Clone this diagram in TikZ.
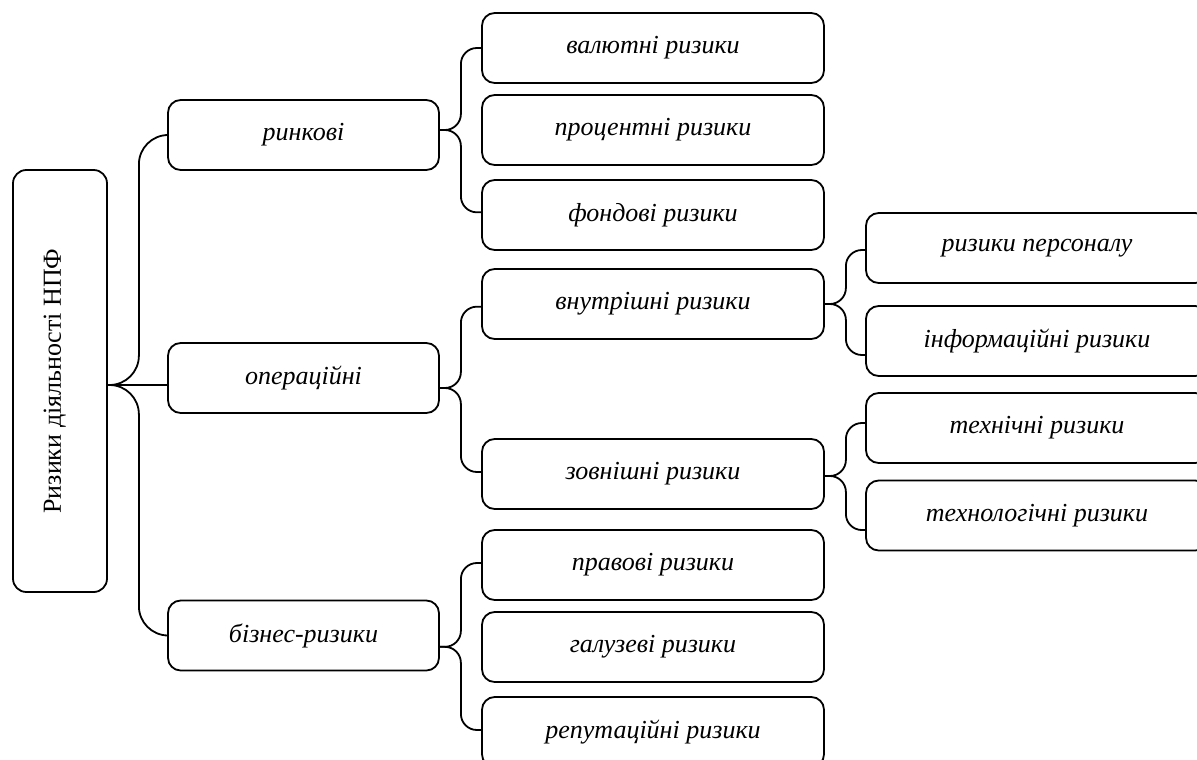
\documentclass[tikz,border=0pt]{standalone}
\usepackage{fontspec}
\setmainfont{Liberation Serif}
\usetikzlibrary{calc}
\tikzset{
  bx/.style={draw, line width=1.35pt, rounded corners=9.5pt, inner sep=0pt, align=center,
    font=\fontsize{19.5}{23}\selectfont\itshape},
  lone/.style={bx, minimum width=203.25pt, minimum height=52.5pt},
  ltwo/.style={bx, minimum width=256.5pt, minimum height=52.5pt},
  rootbox/.style={draw, line width=1.35pt, rounded corners=10pt, inner sep=0pt,
    minimum width=70.5pt, minimum height=316.5pt},
  conn/.style={line width=1.35pt, rounded corners=12pt},
  rconn/.style={line width=1.35pt, rounded corners=22pt}
}
\begin{document}
\begin{tikzpicture}[x=0.75pt,y=-0.75pt]
\useasboundingbox (0,0) rectangle (1197,760);
\clip (0,0) rectangle (1197,760);
% root
\node[rootbox] (root) at (60,381) {};
\node[rotate=90, font=\fontsize{19.5}{23}\selectfont] (roott) at ([xshift=-4pt]root.center) {Ризики діяльності НПФ};
% level 1
\node[lone] (rin) at (303.5,135) {ринкові};
\node[lone] (op) at (303.5,378) {операційні};
\node[lone] (biz) at (303.5,635.5) {бізнес-ризики};
% level 2
\node[ltwo] (val) at (653,48) {валютні ризики};
\node[ltwo] (pro) at (653,130) {процентні ризики};
\node[ltwo] (fon) at (653,215) {фондові ризики};
\node[ltwo] (vnu) at (653,304) {внутрішні ризики};
\node[ltwo] (zov) at (653,474) {зовнішні ризики};
\node[ltwo] (pra) at (653,565) {правові ризики};
\node[ltwo] (gal) at (653,647) {галузеві ризики};
\node[ltwo] (rep) at (653,732) {репутаційні ризики};
% level 3
\node[ltwo] (per) at (1037,248) {ризики персоналу};
\node[ltwo] (inf) at (1037,341) {інформаційні ризики};
\node[ltwo] (teh) at (1037,428) {технічні ризики};
\node[ltwo] (tel) at (1037,515.5) {технологічні ризики};
% root connectors
\draw[rconn] ([yshift=-3pt]root.east) -- ++(23.25pt,0) |- (rin.west);
\draw[rconn] ([yshift=-3pt]root.east) -- ++(23.25pt,0) |- (biz.west);
\draw[line width=1.35pt] ([yshift=-3pt]root.east) -- ([yshift=-3pt]root.east -| op.west);
% ринкові brace
\draw[conn] ([yshift=3.75pt]rin.east) -- ++(15.75pt,0) |- (val.west);
\draw[conn] ([yshift=3.75pt]rin.east) -- ++(15.75pt,0) |- ([yshift=2pt]fon.west);
% операційні brace
\draw[conn] ([yshift=-7.5pt]op.east) -- ++(15.75pt,0) |- ([yshift=-2pt]vnu.west);
\draw[conn] ([yshift=-7.5pt]op.east) -- ++(15.75pt,0) |- ([yshift=1.5pt]zov.west);
% бізнес brace
\draw[conn] ([yshift=-8.5pt]biz.east) -- ++(15.75pt,0) |- ([yshift=1.5pt]pra.west);
\draw[conn] ([yshift=-8.5pt]biz.east) -- ++(15.75pt,0) |- ([yshift=1.5pt]rep.west);
% внутрішні brace
\draw[conn] (vnu.east) -- ++(15.75pt,0) |- ([yshift=-1.5pt]per.west);
\draw[conn] (vnu.east) -- ++(15.75pt,0) |- ([yshift=-10.5pt]inf.west);
% зовнішні brace
\draw[conn] ([yshift=-1.5pt]zov.east) -- ++(15.75pt,0) |- ([yshift=3.75pt]teh.west);
\draw[conn] ([yshift=-1.5pt]zov.east) -- ++(15.75pt,0) |- ([yshift=-10.9pt]tel.west);
\end{tikzpicture}
\end{document}
